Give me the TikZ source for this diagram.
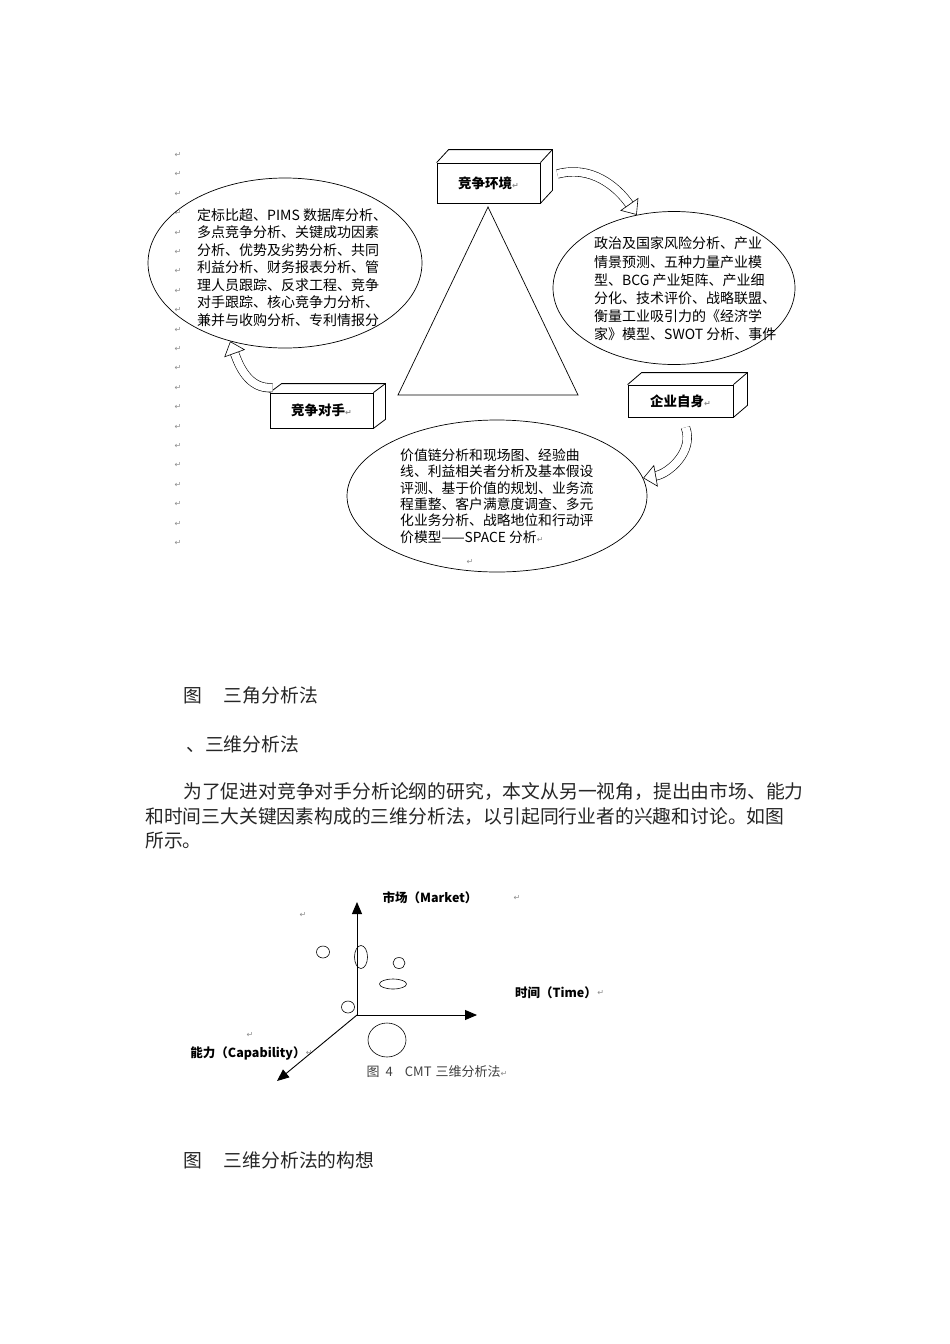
\documentclass[tikz,border=0pt]{standalone}
\usepackage{fontspec}
\setmainfont{Noto Sans CJK SC}
\newfontfamily\symfont{DejaVu Sans}
\usetikzlibrary{shapes.geometric,arrows.meta}
\newcommand{\ret}{{\symfont\fontsize{8}{8}\selectfont\color{black!45}↵}}
\newcommand{\boxdepth}[3]{%
  \draw[line width=0.8pt] (#1.north west) -- ++(#2,#3) -- ([shift={(#2,#3)}]#1.north east)
    -- ([shift={(#2,#3)}]#1.south east) -- (#1.south east);
  \draw[line width=0.8pt] (#1.north east) -- ++(#2,#3);}

\begin{document}
\begin{tikzpicture}[x=1pt, y=-1pt, every node/.style={inner sep=0pt},
  cubebox/.style={draw, line width=0.8pt, minimum width=103pt, font=\bfseries\fontsize{13.5}{15}\selectfont},
  ovalshape/.style={draw, ellipse, line width=0.7pt},
  ovaltext/.style={anchor=west, align=left},
  bendarrow/.style={draw, line width=0.6pt, double=white, double distance=8pt,
    -{Triangle[fill=white, line width=0.6pt, width=22pt, length=13pt]}},
  axisline/.style={line width=0.9pt, -{Triangle[width=10pt,length=12pt]}},
  axislabel/.style={font=\bfseries\fontsize{12.5}{14}\selectfont},
  spotshape/.style={draw, ellipse, line width=0.6pt},
  bodytext/.style={anchor=west, font=\fontsize{18.8}{22}\selectfont, text=black!85},
  retmark/.style={font=\symfont\fontsize{8}{8}\selectfont, text=black!45}]

  \fill[white] (0,0) rectangle (950,1344);
  \useasboundingbox (0,0) rectangle (950,1344);

  % Paragraph marks down the margin
  \foreach \i in {0,...,20}
    \node[retmark] (rm\i) at (178, {155+19.4*\i}) {↵};

  % Triangle
  \draw[line width=0.7pt] (488,207) -- (398,395) -- (578,395) -- cycle;

  % Boxes
  \node[cubebox, minimum height=40pt] (envbox) at (488.5,183) {竞争环境\ret};
  \boxdepth{envbox}{12}{-13}
  \node[cubebox, minimum height=35pt] (rivalbox) at (321.5,410.5) {竞争对手\ret};
  \boxdepth{rivalbox}{12}{-9}
  \node[cubebox, minimum width=105pt, minimum height=32pt] (selfbox) at (680.5,401) {企业自身\ret};
  \boxdepth{selfbox}{14}{-12}

  % Ellipses
  \node[ovalshape, minimum width=274pt, minimum height=170pt] (rivalell) at (285,263) {};
  \node[ovalshape, minimum width=242pt, minimum height=153pt] (envell) at (674,288) {};
  \node[ovalshape, minimum width=300pt, minimum height=152pt] (selfell) at (497,496) {};

  \node[ovaltext, font=\fontsize{14}{17.5}\selectfont] (rivaltxt) at (197,267.5) {%
    定标比超、PIMS 数据库分析、\\
    多点竞争分析、关键成功因素\\
    分析、优势及劣势分析、共同\\
    利益分析、财务报表分析、管\\
    理人员跟踪、反求工程、竞争\\
    对手跟踪、核心竞争力分析、\\
    兼并与收购分析、专利情报分};
  \node[ovaltext, font=\fontsize{14}{18.2}\selectfont] (envtxt) at (594,289) {%
    政治及国家风险分析、产业\\
    情景预测、五种力量产业模\\
    型、BCG 产业矩阵、产业细\\
    分化、技术评价、战略联盟、\\
    衡量工业吸引力的《经济学\\
    家》模型、SWOT 分析、事件};
  \node[ovaltext, font=\fontsize{13.8}{16.4}\selectfont] (selftxt) at (400,496) {%
    价值链分析和现场图、经验曲\\
    线、利益相关者分析及基本假设\\
    评测、基于价值的规划、业务流\\
    程重整、客户满意度调查、多元\\
    化业务分析、战略地位和行动评\\
    价模型——SPACE 分析\ret};
  \node[retmark] (rmself) at (470,562) {↵};

  % Curved arrows
  \draw[bendarrow] ([shift={(17,-9)}]envbox.east) to[out=15, in=125] (envell.117);
  \draw[bendarrow] ([shift={(3,-5)}]rivalbox.north west) to[out=185, in=-70] (rivalell.235);
  \draw[bendarrow] ([shift={(5,10)}]selfbox.south) to[out=-70, in=10] (selfell.7);

  % Body text
  \node[bodytext] (cap1) at (183,695) {图\hspace{22pt}三角分析法};
  \node[bodytext] (sec2) at (186,744) {、三维分析法};
  \node[bodytext] (par1) at (183,792) {为了促进对竞争对手分析论纲的研究，本文从另一视角，提出由市场、能力};
  \node[bodytext] (par2) at (145,817) {和时间三大关键因素构成的三维分析法，以引起同行业者的兴趣和讨论。如图};
  \node[bodytext] (par3) at (145,840) {所示。};

  % Axes
  \coordinate (O) at (357,1015);
  \coordinate (mtip) at (357,902);
  \coordinate (ttip) at (477,1015);
  \coordinate (ctip) at (277,1081);
  \draw[axisline] (O) -- (mtip);
  \draw[axisline] (O) -- (ttip);
  \draw[axisline] (O) -- (ctip);

  \node[axislabel] (market) at (430,898) {市场（Market）};
  \node[axislabel] (time) at (556,993) {时间（Time）};
  \node[axislabel] (capab) at (248,1053) {能力（Capability）};
  \node[retmark, anchor=west] at (time.east) {↵};
  \node[retmark, anchor=west] at (capab.east) {↵};
  \node[retmark] (rmm) at (517,898) {↵};
  \node[retmark] (rma) at (303,915) {↵};
  \node[retmark] (rmc) at (250,1035) {↵};

  % Spots
  \node[spotshape, minimum width=13pt, minimum height=12pt] (s1) at (323,952) {};
  \node[spotshape, minimum width=13pt, minimum height=23pt] (s2) at (361,957) {};
  \node[spotshape, minimum width=12pt, minimum height=11pt] (s3) at (399,963) {};
  \node[spotshape, minimum width=27pt, minimum height=10pt] (s4) at (393,984) {};
  \node[spotshape, minimum width=13pt, minimum height=12pt] (s5) at (348,1007) {};
  \node[spotshape, minimum width=38pt, minimum height=34pt] (s6) at (387,1040) {};

  \node[font=\fontsize{13}{15}\selectfont, text=black!75] (cap4) at (437,1072)
    {图\hspace{6pt}4\hspace{12pt}CMT\hspace{4pt}三维分析法\ret};

  \node[bodytext] (cap2) at (183,1160) {图\hspace{22pt}三维分析法的构想};
\end{tikzpicture}
\end{document}
